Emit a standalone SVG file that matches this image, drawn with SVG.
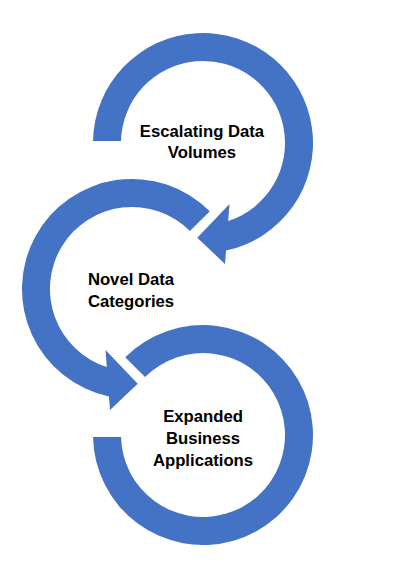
<svg xmlns="http://www.w3.org/2000/svg" width="411" height="571" viewBox="0 0 411 571">
<style>
.ring{fill:#4472C4;stroke:none}
.lbl{font-family:"Liberation Sans",Arial,sans-serif;font-weight:bold;font-size:16.7px;fill:#000;text-anchor:middle}
</style>
<rect width="411" height="571" fill="#fff"/>
<g id="connectors"></g>
<g id="node1">
<path class="ring" d="M93.02,141 A110,110 0 1 1 226.05,250.55 L225,264 L197.3,237.7 L229.5,204 L228.2,221 A82,82 0 1 0 121.02,141 Z"/>
<text class="lbl" x="202" y="136.5">Escalating Data</text>
<text class="lbl" x="202" y="158">Volumes</text>
</g>
<g id="node2">
<path class="ring" d="M209.78,211.22 A110,110 0 1 0 108.95,396.55 L110,410 L137.7,383.7 L105.5,350 L106.8,367 A82,82 0 1 1 189.98,231.02 Z"/>
<text class="lbl" x="131" y="285">Novel Data</text>
<text class="lbl" x="131" y="307">Categories</text>
</g>
<g id="node3">
<path class="ring" d="M125.22,357.22 A110,110 0 1 1 93.02,437 L121.02,437 A82,82 0 1 0 145.02,377.02 Z"/>
<text class="lbl" x="203" y="421.5">Expanded</text>
<text class="lbl" x="203" y="443.5">Business</text>
<text class="lbl" x="203" y="465.5">Applications</text>
</g>
</svg>
